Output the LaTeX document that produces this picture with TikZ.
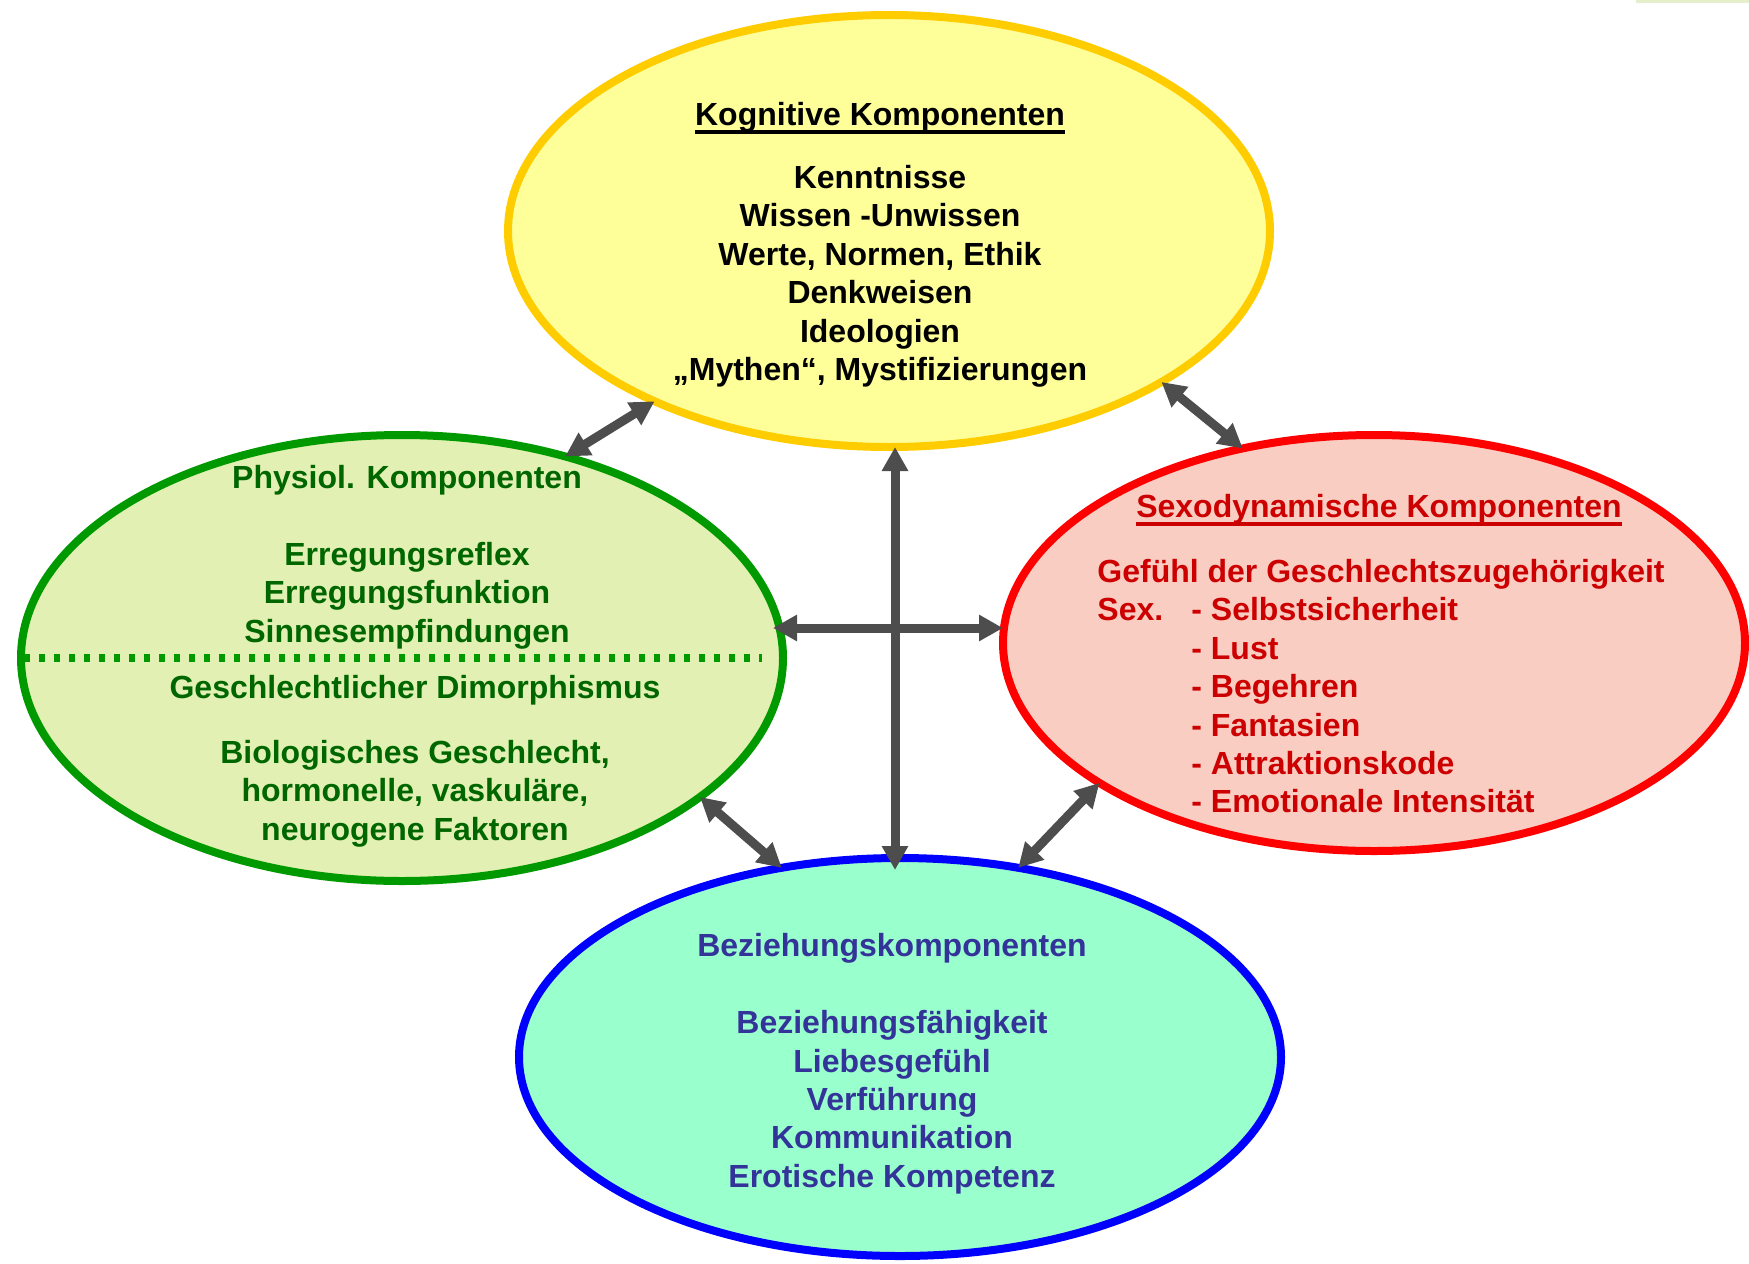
\documentclass[tikz,border=0pt]{standalone}
\usepackage{fontspec}
\setmainfont{Liberation Sans}
\usetikzlibrary{arrows.meta,positioning,shapes.geometric}

\definecolor{gelbrand}{HTML}{FFCC00}
\definecolor{gelbfill}{HTML}{FFFF99}
\definecolor{gruenrand}{HTML}{009900}
\definecolor{gruenfill}{HTML}{E2F0B4}
\definecolor{gruentext}{HTML}{006600}
\definecolor{rotrand}{HTML}{FF0000}
\definecolor{rotfill}{HTML}{F9CDC2}
\definecolor{rottext}{HTML}{CC0000}
\definecolor{blaurand}{HTML}{0000FF}
\definecolor{blaufill}{HTML}{99FFCC}
\definecolor{blautext}{HTML}{333399}
\definecolor{pfeilgrau}{HTML}{4D4D4D}
\definecolor{balken}{HTML}{E6EFCB}

\newcommand{\unterstr}[1]{\setbox0=\hbox{#1}\rlap{\rule[-4pt]{\wd0}{2pt}}\box0}
\newcommand{\einzug}{\hspace*{47pt}}

\begin{document}
\begin{tikzpicture}[x=0.5pt, y=-0.5pt,
    >={Triangle[length=12pt,width=12.5pt]},
    komp/.style={ellipse, line width=4pt, inner sep=0pt, outer sep=0pt},
    txt/.style={font=\fontsize{16pt}{19.2pt}\selectfont\bfseries, align=center, inner sep=0pt},
    pfeil/.style={<->, draw=pfeilgrau, line width=4.5pt}]
    \useasboundingbox (0,0) rectangle (1749,1263);
    \fill[balken] (1636,0) rectangle (1749,3);

    % Ellipsen
    \node[komp, draw=gelbrand, fill=gelbfill, minimum width=381pt, minimum height=216pt] (Y) at (889,231) {};
    \node[komp, draw=gruenrand, fill=gruenfill, minimum width=381pt, minimum height=223pt] (G) at (402,658) {};
    \node[komp, draw=rotrand, fill=rotfill, minimum width=371pt, minimum height=208pt] (R) at (1374,643) {};
    \node[komp, draw=blaurand, fill=blaufill, minimum width=381pt, minimum height=199pt] (B) at (900,1057) {};

    \draw[gruenrand, line width=4pt, dash pattern=on 3pt off 4.5pt] ([xshift=1.5pt]G.west) -- ([xshift=-10.5pt]G.east);

    % Texte
    \node[txt, anchor=north] (kogn) at (880,102) {\unterstr{Kognitive Komponenten}\\[12.3pt]
        Kenntnisse\\ Wissen -Unwissen\\ Werte, Normen, Ethik\\ Denkweisen\\ Ideologien\\ „Mythen“, Mystifizierungen};
    \node[txt, text=gruentext, anchor=north] (phys) at (407,465) {Physiol. Komponenten\\[19.3pt]
        Erregungsreflex\\ Erregungsfunktion\\ Sinnesempfindungen};
    \node[txt, text=gruentext, anchor=north] (dimo) at (415,675) {Geschlechtlicher Dimorphismus\\[13.3pt]
        Biologisches Geschlecht,\\ hormonelle, vaskuläre,\\ neurogene Faktoren};
    \node[txt, text=rottext, anchor=north] (sexo) at (1379,494) {\unterstr{Sexodynamische Komponenten}};
    \node[txt, text=rottext, align=left, anchor=north west] (sexl) at (1097,559) {Gefühl der Geschlechtszugehörigkeit\\
        \makebox[47pt][l]{Sex.}- Selbstsicherheit\\ \einzug- Lust\\ \einzug- Begehren\\ \einzug- Fantasien\\
        \einzug- Attraktionskode\\ \einzug- Emotionale Intensität};
    \node[txt, text=blautext, anchor=north] (bez) at (892,933) {Beziehungskomponenten\\[19.3pt]
        Beziehungsfähigkeit\\ Liebesgefühl\\ Verführung\\ Kommunikation\\ Erotische Kompetenz};

    % Pfeile
    \coordinate (mitte) at (895,628);
    \draw[pfeil] (Y.216) -- (G.51);
    \draw[pfeil] (Y.331) -- (R.124);
    \draw[pfeil] (G.335) -- (B.122);
    \draw[pfeil] (R.207) -- (B.58);
    \draw[pfeil, shorten >=-6pt] (mitte |- Y.south) -- (mitte |- B.north);
    \draw[pfeil, shorten <=-5pt] (G.east |- mitte) -- (R.west |- mitte);
\end{tikzpicture}
\end{document}
